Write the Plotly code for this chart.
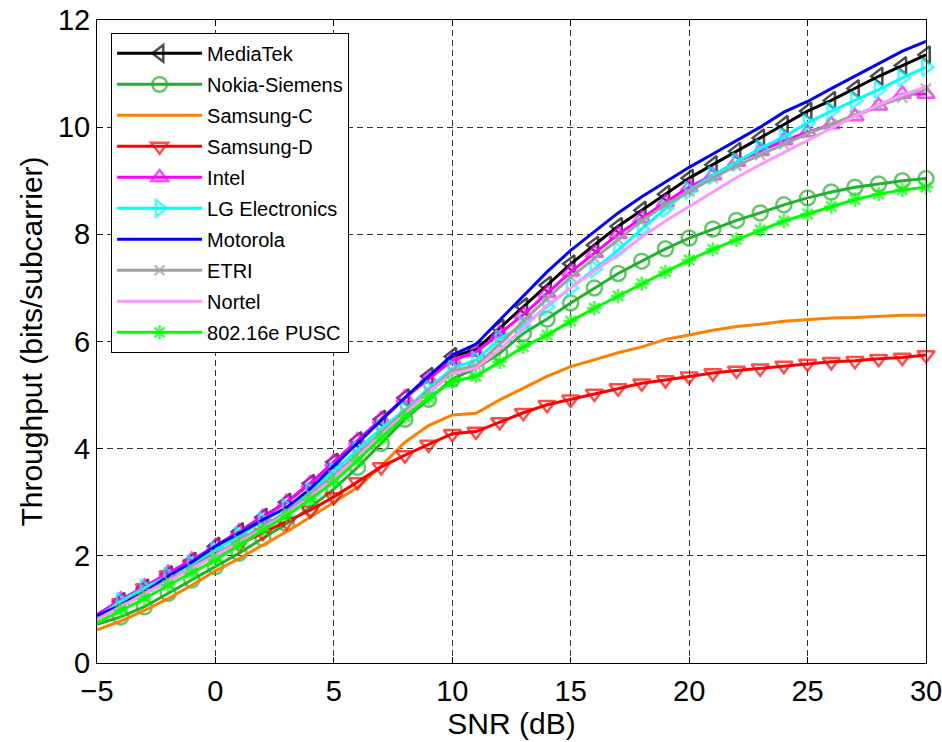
import plotly.graph_objects as go

snr = list(range(-5, 31))

mediatek = [0.90, 1.15, 1.40, 1.65, 1.90, 2.18, 2.45, 2.72, 3.00, 3.35, 3.75, 4.15, 4.55, 4.95, 5.35, 5.72,
            5.85, 6.25, 6.65, 7.05, 7.45, 7.80, 8.15, 8.45, 8.75, 9.05, 9.30, 9.55, 9.80, 10.05, 10.30,
            10.50, 10.72, 10.95, 11.15, 11.35]
nokia = [0.72, 0.86, 1.05, 1.30, 1.55, 1.80, 2.05, 2.33, 2.60, 2.90, 3.25, 3.65, 4.10, 4.55, 4.92, 5.30,
         5.50, 5.78, 6.15, 6.42, 6.72, 7.00, 7.27, 7.50, 7.73, 7.93, 8.10, 8.26, 8.40, 8.55, 8.68,
         8.79, 8.88, 8.94, 9.00, 9.04]
samsung_c = [0.62, 0.78, 0.98, 1.20, 1.45, 1.72, 1.95, 2.20, 2.45, 2.72, 3.00, 3.28, 3.68, 4.12, 4.43, 4.63,
             4.66, 4.91, 5.13, 5.35, 5.53, 5.66, 5.79, 5.90, 6.04, 6.12, 6.21, 6.28, 6.32, 6.38, 6.41,
             6.44, 6.45, 6.47, 6.49, 6.49]
samsung_d = [0.88, 1.12, 1.40, 1.64, 1.85, 2.02, 2.22, 2.43, 2.63, 2.85, 3.10, 3.38, 3.66, 3.88, 4.08, 4.28,
             4.32, 4.50, 4.67, 4.82, 4.92, 5.03, 5.13, 5.22, 5.28, 5.35, 5.41, 5.46, 5.50, 5.55, 5.59,
             5.62, 5.64, 5.68, 5.70, 5.75]
intel = [0.90, 1.18, 1.42, 1.68, 1.92, 2.18, 2.45, 2.72, 3.00, 3.35, 3.75, 4.15, 4.55, 4.95, 5.30, 5.65,
         5.80, 6.15, 6.50, 6.90, 7.30, 7.65, 8.00, 8.30, 8.60, 8.88, 9.10, 9.35, 9.55, 9.75, 9.90,
         10.05, 10.20, 10.40, 10.62, 10.62]
lg = [0.85, 1.15, 1.40, 1.62, 1.85, 2.10, 2.38, 2.65, 2.90, 3.20, 3.58, 3.98, 4.38, 4.72, 5.12, 5.50,
      5.65, 6.05, 6.30, 6.65, 7.00, 7.35, 7.70, 8.10, 8.48, 8.82, 9.10, 9.35, 9.60, 9.82, 10.08,
      10.30, 10.50, 10.70, 10.92, 11.12]
motorola = [0.88, 1.08, 1.32, 1.62, 1.88, 2.18, 2.42, 2.67, 2.90, 3.25, 3.68, 4.10, 4.52, 4.95, 5.35, 5.75,
            5.95, 6.40, 6.85, 7.30, 7.70, 8.05, 8.40, 8.70, 8.98, 9.25, 9.50, 9.75, 10.00, 10.28, 10.48,
            10.72, 10.95, 11.18, 11.42, 11.60]
etri = [0.82, 1.05, 1.30, 1.55, 1.78, 2.02, 2.30, 2.55, 2.82, 3.15, 3.50, 3.90, 4.30, 4.70, 5.08, 5.45,
        5.55, 5.95, 6.38, 6.80, 7.20, 7.55, 7.90, 8.25, 8.55, 8.80, 9.05, 9.28, 9.48, 9.68, 9.88,
        10.05, 10.22, 10.40, 10.55, 10.72]
nortel = [0.80, 1.05, 1.28, 1.52, 1.75, 2.00, 2.25, 2.50, 2.78, 3.10, 3.45, 3.85, 4.25, 4.65, 5.05, 5.40,
          5.50, 5.85, 6.25, 6.68, 7.00, 7.32, 7.62, 7.95, 8.25, 8.52, 8.80, 9.06, 9.30, 9.53, 9.75,
          9.98, 10.20, 10.42, 10.60, 10.75]
pusc = [0.75, 0.98, 1.20, 1.45, 1.68, 1.92, 2.20, 2.48, 2.75, 3.05, 3.38, 3.78, 4.20, 4.60, 4.95, 5.25,
        5.35, 5.62, 5.90, 6.12, 6.38, 6.62, 6.85, 7.08, 7.30, 7.52, 7.72, 7.90, 8.08, 8.25, 8.38,
        8.52, 8.65, 8.75, 8.83, 8.88]

series = [
    ("MediaTek", mediatek, "#000000", "triangle-left-open", 15),
    ("Nokia-Siemens", nokia, "#22B12C", "circle-open", 15),
    ("Samsung-C", samsung_c, "#FF8000", None, 0),
    ("Samsung-D", samsung_d, "#FF0000", "triangle-down-open", 15),
    ("Intel", intel, "#FF00FF", "triangle-up-open", 15),
    ("LG Electronics", lg, "#00FFFF", "triangle-right-open", 15),
    ("Motorola", motorola, "#0000FF", None, 0),
    ("ETRI", etri, "#A0A0A0", "x-thin-open", 10),
    ("Nortel", nortel, "#FF99FF", None, 0),
    ("802.16e PUSC", pusc, "#00FF00", "asterisk-open", 12),
]

fig = go.Figure()
for i, (name, ys, color, sym, size) in enumerate(series):
    if sym is None:
        fig.add_trace(go.Scatter(x=snr, y=ys, name=name, mode="lines", legendgroup=f"g{i}",
                                 line=dict(color=color, width=3), cliponaxis=False))
    else:
        sizes = [0] + [size] * (len(snr) - 1)
        fig.add_trace(go.Scatter(x=snr, y=ys, name=name, mode="lines+markers", legendgroup=f"g{i}",
                                 line=dict(color=color, width=3),
                                 marker=dict(symbol=sym, size=sizes, color=color,
                                             line=dict(color=color, width=2.5)),
                                 cliponaxis=False))

font_family = "Liberation Sans, Arial"
axis_common = dict(showline=True, linecolor="black", linewidth=1, mirror="allticks",
                   ticks="inside", ticklen=6, tickcolor="black", automargin=False,
                   ticklabeloverflow="allow",
                   showgrid=True, gridcolor="#333333", gridwidth=1, griddash="6px,4px",
                   zeroline=False, tickfont=dict(family=font_family, size=29, color="black"),
                   title_font=dict(family=font_family, size=30, color="black"))

fig.update_layout(
    width=942, height=742,
    margin=dict(l=97, r=16, t=20, b=79),
    paper_bgcolor="white", plot_bgcolor="white",
    font=dict(family=font_family, color="black"),
    xaxis=dict(range=[-5, 30], tickvals=[-5, 0, 5, 10, 15, 20, 25, 30],
               ticklabelstandoff=2,
               title=dict(text="SNR (dB)", standoff=0), **axis_common),
    yaxis=dict(range=[0, 12], tickvals=[0, 2, 4, 6, 8, 10, 12],
               ticklabelstandoff=0,
               title=dict(text="Throughput (bits/subcarrier)", standoff=6), **axis_common),
    legend=dict(x=0.017, y=0.98, xanchor="left", yanchor="top",
                bgcolor="white", bordercolor="black", borderwidth=1,
                traceorder="grouped", tracegroupgap=2, itemwidth=85,
                font=dict(family=font_family, size=20, color="black")),
    showlegend=True,
)

fig.write_html("out.html")
